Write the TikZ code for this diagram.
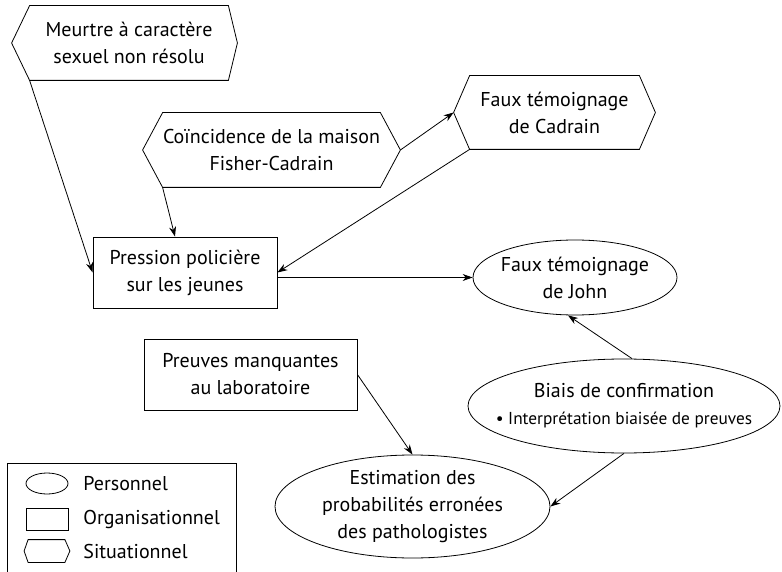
\documentclass[tikz,border=0pt]{standalone}
\usepackage{fontspec}
\setmainfont{PT Sans}
\usetikzlibrary{shapes.geometric,arrows.meta}

\tikzset{
  every node/.style={font=\fontsize{20}{27}\selectfont},
  orga/.style={draw, rectangle, align=center, inner sep=0pt},
  perso/.style={draw, ellipse, inner sep=0pt},
  situ/.style={align=center, inner sep=0pt},
  fleche/.style={-{Stealth[length=10pt,width=7pt]}}
}

\begin{document}
\begin{tikzpicture}[x=1pt,y=1pt,yscale=-1,line width=0.8pt]
\useasboundingbox (0,0) rectangle (782,572);

%Shape: Hexagon [Meurtre]
\node[situ, minimum width=198pt, minimum height=74pt] (meurtre) at (129,43) {Meurtre à caractère\\sexuel non résolu};
%Shape: Hexagon [Coincidence]
\node[situ, minimum width=215pt, minimum height=74pt] (coinc) at (271.5,150) {Coïncidence de la maison\\Fisher-Cadrain};
%Shape: Hexagon [Cadrain]
\node[situ, minimum width=169pt, minimum height=73pt] (cadrain) at (554.5,112.5) {Faux témoignage\\de Cadrain};

%Shape: Rectangle [Pression]
\node[orga, minimum width=184pt, minimum height=71pt] (pression) at (185,272.5) {Pression policière\\sur les jeunes};
%Shape: Rectangle [Preuves]
\node[orga, minimum width=213pt, minimum height=71pt] (preuves) at (250.5,374.5) {Preuves manquantes\\au laboratoire};

%Shape: Ellipse [John]
\node[perso, minimum width=204pt, minimum height=75pt, label={[align=center]center:Faux témoignage\\de John}] (john) at (575,277.5) {};
%Shape: Ellipse [Biais]
\node[perso, minimum width=312pt, minimum height=94pt, label={[align=center]center:Biais de confirmation\\\fontsize{17.3}{26}\selectfont • Interprétation biaisée de preuves}] (biais) at (624,406) {};
%Shape: Ellipse [Estimation]
\node[perso, minimum width=275pt, minimum height=103pt, label={[align=center]center:Estimation des\\probabilités erronées\\des pathologistes}] (estim) at (412.5,506.5) {};

% Legend
\draw (7,572) -- (7,463) -- (236,463) -- (236,572);
\node[perso, minimum width=42pt, minimum height=21pt] (lell) at (47,483.5) {};
\node[orga, minimum width=42pt, minimum height=22pt] (lrect) at (47,519) {};
\node[situ, minimum width=36pt, minimum height=22pt] (lhex) at (46.5,551) {};
\node[anchor=west, inner sep=0pt] (tperso) at (83,483.5) {Personnel};
\node[anchor=west, inner sep=0pt] (torga) at (83,519) {Organisationnel};
\node[anchor=west, inner sep=0pt] (tsitu) at (83,551) {Situationnel};

%Hexagon outlines
\foreach \n/\l/\r in {meurtre/18/9, coinc/20/20, cadrain/16/16, lhex/4/5}
  \draw (\n.north west) -- (\n.north east) -- ([xshift=\r pt]\n.east) -- (\n.south east) -- (\n.south west) -- ([xshift=-\l pt]\n.west) -- cycle;

%Arrows
\draw[fleche] (meurtre.south west) -- (pression.west);
\draw[fleche] (coinc.south west) -- ([xshift=-10pt]pression.north);
\draw[fleche] ([xshift=20pt]coinc.east) -- ([xshift=-16pt]cadrain.west);
\draw[fleche] (cadrain.south west) -- (pression.east);
\draw[fleche] (pression.east |- john.west) -- (john.west);
\draw[fleche] (preuves.east) -- (estim.north);
\draw[fleche] ([xshift=8pt]biais.north) -- ([xshift=-7pt]john.south);
\draw[fleche] (biais.south) -- (estim.east);

\end{tikzpicture}
\end{document}
